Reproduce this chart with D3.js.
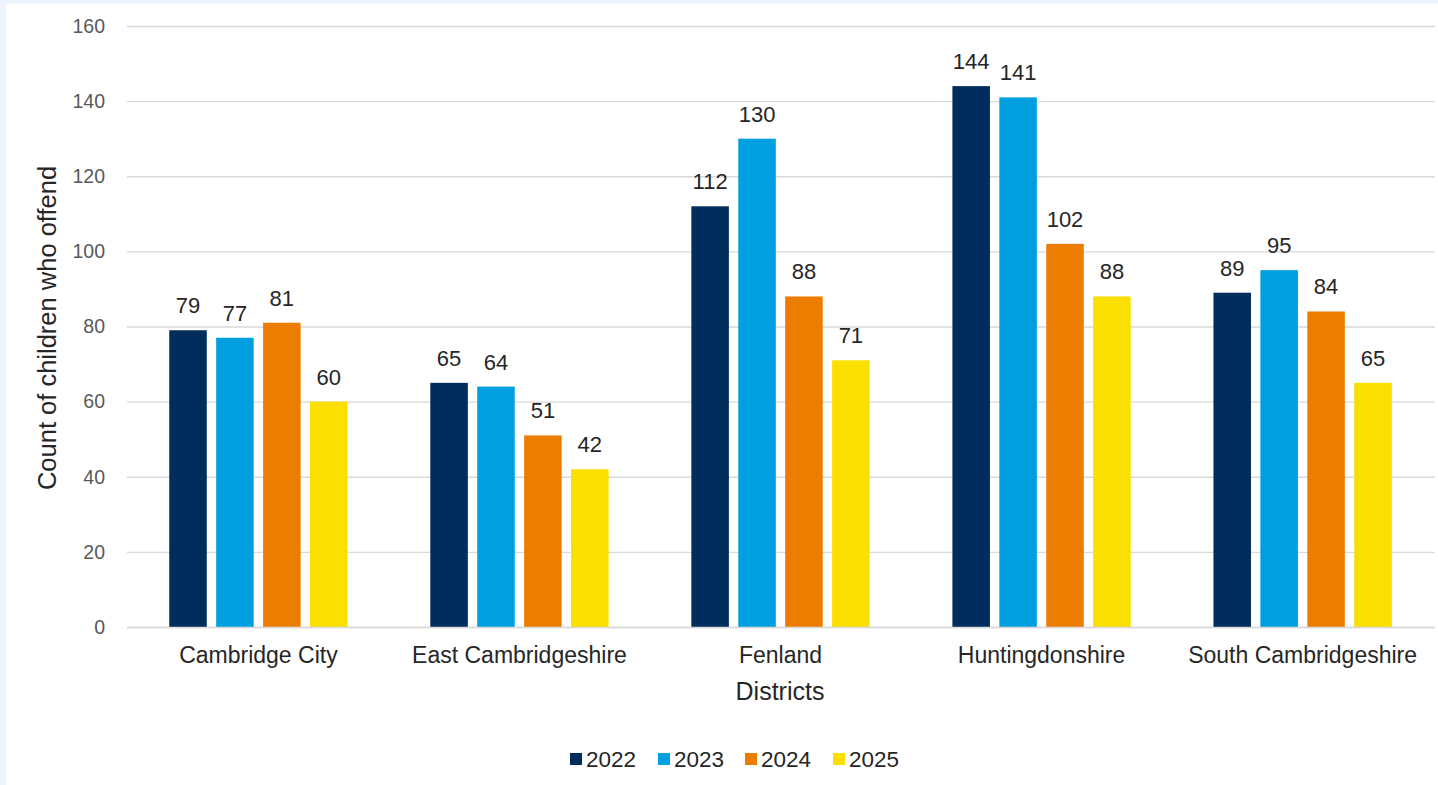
<!DOCTYPE html>
<html><head><meta charset="utf-8">
<script src="https://cdn.jsdelivr.net/npm/d3@7"></script>
<style>
html,body{margin:0;padding:0;background:#eef4fd;}
svg{display:block;font-family:"Liberation Sans",Arial,sans-serif;}
</style></head>
<body>
<svg id="c" width="1438" height="785"></svg>
<script>
const categories = ["Cambridge City","East Cambridgeshire","Fenland","Huntingdonshire","South Cambridgeshire"];
const years = ["2022","2023","2024","2025"];
const v2022 = [79,65,112,144,89];
const v2023 = [77,64,130,141,95];
const v2024 = [81,51,88,102,84];
const v2025 = [60,42,71,88,65];
const yTicks = [0,20,40,60,80,100,120,140,160];
const colors = ["#002D5B","#009FE0","#ED7D00","#FADF00"];
const seriesValues = [v2022,v2023,v2024,v2025];

(function(){
const svg = d3.select("#c");
svg.append("rect").attr("x",6).attr("y",4).attr("width",1432).attr("height",781).attr("fill","#fff");

const pLeft=127, pRight=1433, pTop=26, pBottom=627;
const x0 = d3.scaleBand().domain(categories).range([pLeft+1,pRight]).paddingInner(0.317).paddingOuter(0.158);
const x1 = d3.scaleBand().domain(years).range([0,x0.bandwidth()]).paddingInner(0.2);
const y = d3.scaleLinear().domain([0,160]).range([pBottom,pTop]);

// gridlines
const yAxis = d3.axisLeft(y).tickValues(yTicks).tickSize(-(1435-pLeft)).tickFormat(d3.format("d"));
const gy = svg.append("g").attr("transform",`translate(${pLeft},0)`).call(yAxis);
gy.select(".domain").remove();
gy.selectAll(".tick line").attr("stroke","#d9d9d9").attr("stroke-width",1.3);
gy.selectAll(".tick text").attr("x",-22).attr("fill","#595959").style("font-size","19.5px");

// bars
const groups = svg.append("g").selectAll("g").data(categories).join("g")
  .attr("transform",d=>`translate(${x0(d)},0)`);
years.forEach((yr,si)=>{
  groups.append("rect")
    .attr("x",x1(yr))
    .attr("y",(d,i)=>y(seriesValues[si][i]))
    .attr("width",x1.bandwidth())
    .attr("height",(d,i)=>pBottom-y(seriesValues[si][i]))
    .attr("fill",colors[si]);
  groups.append("text")
    .attr("x",x1(yr)+x1.bandwidth()/2)
    .attr("y",(d,i)=>y(seriesValues[si][i])-17)
    .attr("text-anchor","middle")
    .attr("fill","#262626")
    .style("font-size","22px")
    .text((d,i)=>seriesValues[si][i]);
});

// x axis
const xAxis = d3.axisBottom(x0).tickSize(0).tickPadding(20);
const gx = svg.append("g").attr("transform",`translate(0,${pBottom})`).call(xAxis);
gx.select(".domain").remove();
gx.selectAll(".tick text").attr("fill","#262626").style("font-size","23px");
svg.append("line").attr("x1",pLeft).attr("x2",1435).attr("y1",pBottom+0.5).attr("y2",pBottom+0.5)
  .attr("stroke","#d9d9d9").attr("stroke-width",1.3);

// axis titles
svg.append("text").attr("x",780).attr("y",700).attr("text-anchor","middle")
  .attr("fill","#262626").style("font-size","25px").text("Districts");
svg.append("text").attr("transform","translate(56,328) rotate(-90)").attr("text-anchor","middle")
  .attr("fill","#262626").style("font-size","25.5px").text("Count of children who offend");

// legend
const lx=[570,658,745,833];
const leg = svg.append("g");
years.forEach((yr,i)=>{
  leg.append("rect").attr("x",lx[i]).attr("y",753).attr("width",12).attr("height",12).attr("fill",colors[i]);
  leg.append("text").attr("x",lx[i]+16).attr("y",767).attr("fill","#262626").style("font-size","22.5px").text(yr);
});
})();
</script>
</body></html>
